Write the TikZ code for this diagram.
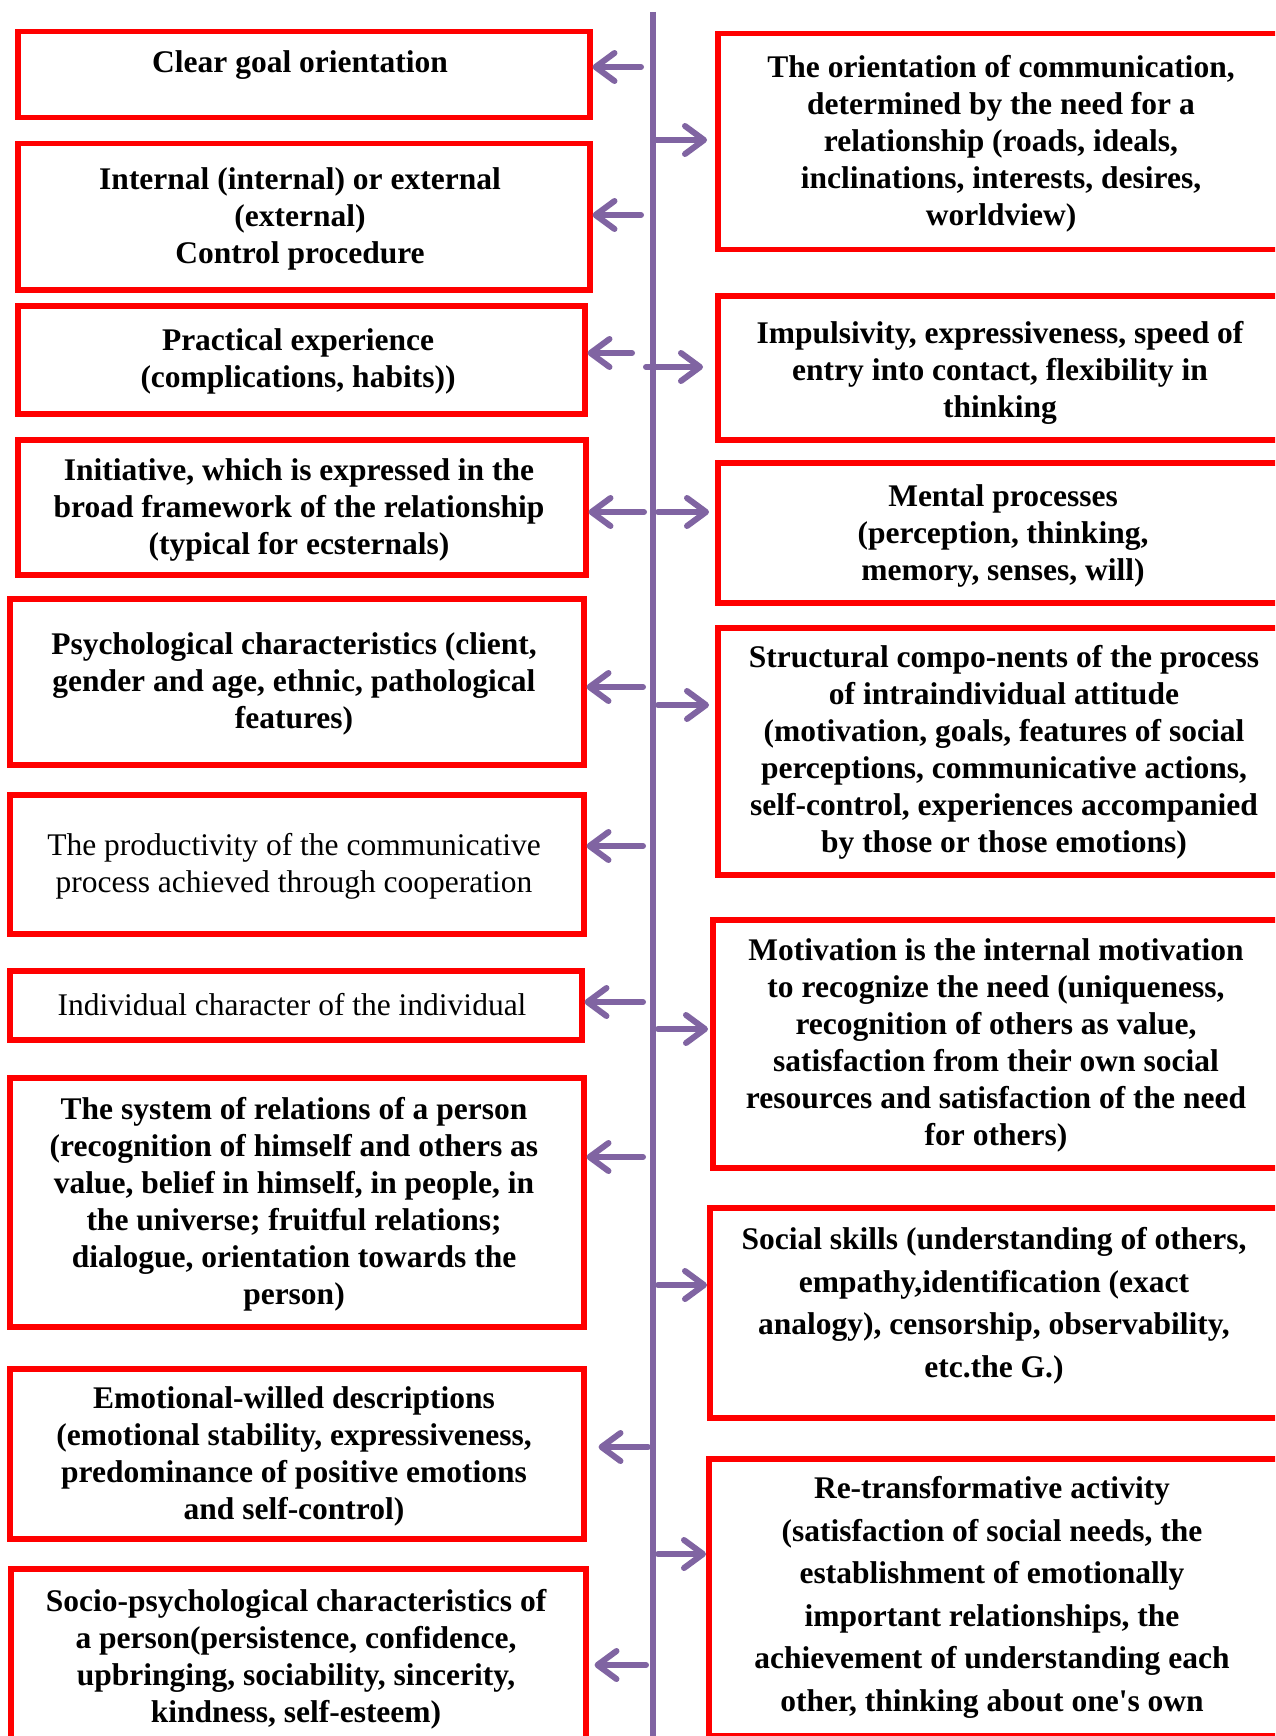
\documentclass[tikz,border=0pt]{standalone}
\usepackage{fontspec}
\setmainfont{Liberation Serif}
\usetikzlibrary{arrows.meta}
\definecolor{boxred}{HTML}{FF0000}
\definecolor{arrpurple}{HTML}{8064A2}
\begin{document}
\begin{tikzpicture}[x=1pt,y=-1pt,
  box/.style={draw=boxred, line width=5.5pt, inner sep=0pt, anchor=north west},
  txt/.style={align=center, inner sep=0pt, font=\fontsize{31.5}{37}\selectfont\bfseries},
  txtw/.style={align=center, inner sep=0pt, font=\fontsize{31.5}{42.5}\selectfont\bfseries},
  txtr/.style={align=center, inner sep=0pt, font=\fontsize{31.5}{37.5}\selectfont},
  arr/.style={draw=arrpurple, line width=6pt, line cap=round, -{Straight Barb[length=19pt,width=28pt,round]}},
  axis/.style={draw=arrpurple, line width=5.5pt}
]
\useasboundingbox (0,0) rectangle (1275,1736);
\clip (0,0) rectangle (1275,1736);
\fill[white] (0,0) rectangle (1275,1736);

% central line
\coordinate (top) at (653,12);
\coordinate (bot) at (653,1740);
\draw[axis] (top) -- (bot);

% left boxes
\node[box, minimum width=572, minimum height=86]  (L1) at (15,29) {};
\node[box, minimum width=572, minimum height=146] (L2) at (15,141) {};
\node[box, minimum width=567, minimum height=108] (L3) at (15,303) {};
\node[box, minimum width=568, minimum height=135] (L4) at (15,437) {};
\node[box, minimum width=574, minimum height=166] (L5) at (7,596) {};
\node[box, minimum width=574, minimum height=139] (L6) at (7,792) {};
\node[box, minimum width=572, minimum height=69]  (L7) at (7,968) {};
\node[box, minimum width=574, minimum height=249] (L8) at (7,1075) {};
\node[box, minimum width=574, minimum height=170] (L9) at (7,1366) {};
\node[box, minimum width=575, minimum height=200] (L10) at (8,1566) {};

% right boxes
\node[box, minimum width=575, minimum height=216] (R1) at (715,31) {};
\node[box, minimum width=575, minimum height=144] (R2) at (715,293) {};
\node[box, minimum width=575, minimum height=140] (R3) at (715,460) {};
\node[box, minimum width=575, minimum height=247] (R4) at (715,625) {};
\node[box, minimum width=580, minimum height=248] (R5) at (710,917) {};
\node[box, minimum width=583, minimum height=210] (R6) at (707,1205) {};
\node[box, minimum width=584, minimum height=277] (R7) at (706,1456) {};

% left texts
\node[txt] (tL1) at (300,65.5) {Clear goal orientation};
\node[txt] (tL2) at (300,218.5) {Internal (internal) or external\\(external)\\Control procedure};
\node[txt] (tL3) at (298,361.5) {Practical experience\\(complications, habits))};
\node[txt] (tL4) at (299,509.5) {Initiative, which is expressed in the\\broad framework of the relationship\\(typical for ecsternals)};
\node[txt] (tL5) at (294,683.5) {Psychological characteristics (client,\\gender and age, ethnic, pathological\\features)};
\node[txtr] (tL6) at (294,866.5) {The productivity of the communicative\\process achieved through cooperation};
\node[txtr] (tL7) at (292,1004.5) {Individual character of the individual};
\node[txt] (tL8) at (294,1204.5) {The system of relations of a person\\(recognition of himself and others as\\value, belief in himself, in people, in\\the universe; fruitful relations;\\dialogue, orientation towards the\\person)};
\node[txt] (tL9) at (294,1456.5) {Emotional-willed descriptions\\(emotional stability, expressiveness,\\predominance of positive emotions\\and self-control)};
\node[txt] (tL10) at (296,1659.5) {Socio-psychological characteristics of\\a person(persistence, confidence,\\upbringing, sociability, sincerity,\\kindness, self-esteem)};

% right texts
\node[txt] (tR1) at (1001,143.5) {The orientation of communication,\\determined by the need for a\\relationship (roads, ideals,\\inclinations, interests, desires,\\worldview)};
\node[txt] (tR2) at (1000,372.5) {Impulsivity, expressiveness, speed of\\entry into contact, flexibility in\\thinking};
\node[txt] (tR3) at (1003,535.5) {Mental processes\\(perception, thinking,\\memory, senses, will)};
\node[txt] (tR4) at (1004,752.5) {Structural compo-nents of the process\\of intraindividual attitude\\(motivation, goals, features of social\\perceptions, communicative actions,\\self-control, experiences accompanied\\by those or those emotions)};
\node[txt] (tR5) at (996,1045.5) {Motivation is the internal motivation\\to recognize the need (uniqueness,\\recognition of others as value,\\satisfaction from their own social\\resources and satisfaction of the need\\for others)};
\node[txtw] (tR6) at (994,1305.5) {Social skills (understanding of others,\\empathy,identification (exact\\analogy), censorship, observability,\\etc.the G.)};
\node[txtw] (tR7) at (992,1597.5) {Re-transformative activity\\(satisfaction of social needs, the\\establishment of emotionally\\important relationships, the\\achievement of understanding each\\other, thinking about one\textquotesingle s own};

% arrow start points near the line
\coordinate (a1) at (641,67);
\coordinate (a2) at (641,215);
\coordinate (a3) at (632,353);
\coordinate (a4) at (644,512);
\coordinate (a5) at (643,687);
\coordinate (a6) at (643,846);
\coordinate (a7) at (643,1002);
\coordinate (a8) at (643,1157);
\coordinate (a9) at (648,1447);
\coordinate (a10) at (646,1665);
\coordinate (b1) at (655,140);
\coordinate (b2) at (646,367);
\coordinate (b3) at (658,512);
\coordinate (b4) at (658,705);
\coordinate (b5) at (658,1029);
\coordinate (b6) at (658,1285);
\coordinate (b7) at (658,1554);

\draw[arr] (a1) -- (a1 -| L1.east);
\draw[arr] (a2) -- (a2 -| L2.east);
\draw[arr] (a3) -- (a3 -| L3.east);
\draw[arr] (a4) -- (a4 -| L4.east);
\draw[arr] (a5) -- (a5 -| L5.east);
\draw[arr] (a6) -- (a6 -| L6.east);
\draw[arr] (a7) -- (a7 -| L7.east);
\draw[arr] (a8) -- (a8 -| L8.east);
\draw[arr, shorten >=12pt] (a9) -- (a9 -| L9.east);
\draw[arr, shorten >=6pt] (a10) -- (a10 -| L10.east);

\draw[arr, shorten >=8pt] (b1) -- (b1 -| R1.west);
\draw[arr, shorten >=12pt] (b2) -- (b2 -| R2.west);
\draw[arr, shorten >=6pt] (b3) -- (b3 -| R3.west);
\draw[arr, shorten >=6pt] (b4) -- (b4 -| R4.west);
\draw[arr, shorten >=2pt] (b5) -- (b5 -| R5.west);
\draw[arr] (b6) -- (b6 -| R6.west);
\draw[arr] (b7) -- (b7 -| R7.west);
\end{tikzpicture}
\end{document}
